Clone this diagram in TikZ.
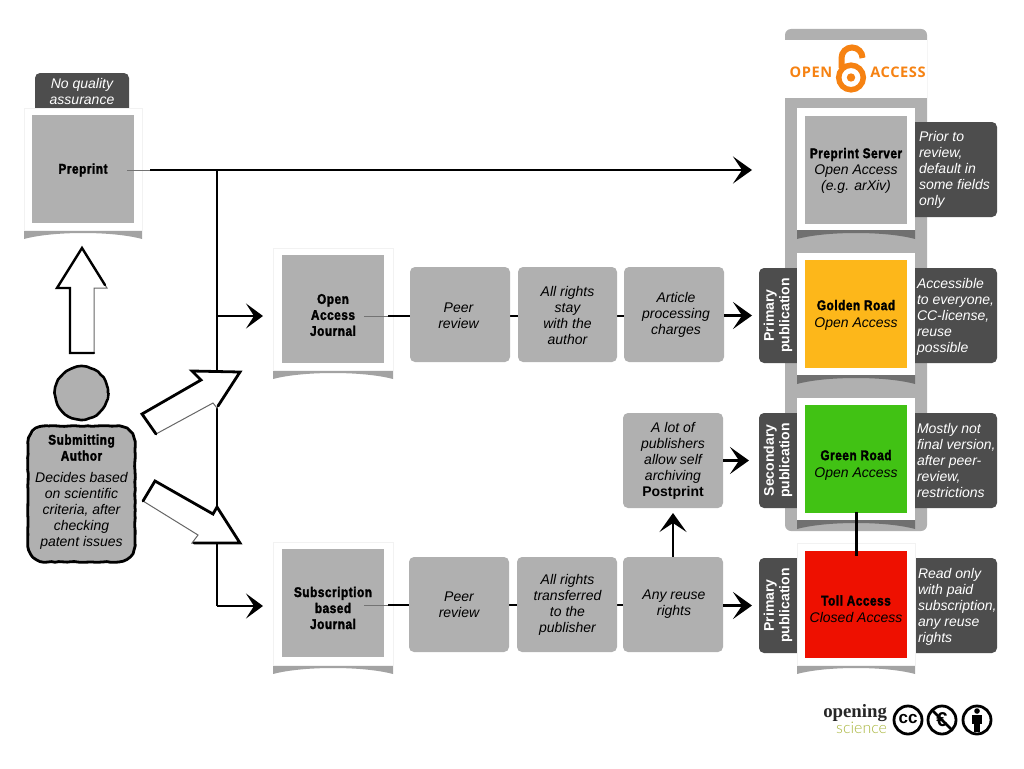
\documentclass[tikz,border=0pt]{standalone}
\usepackage{fontspec}
\setmainfont{Liberation Sans}
\newfontfamily\hfont[FakeStretch=0.84,FakeBold=2,LetterSpace=4]{Liberation Sans Bold}
\newfontfamily\logofont[LetterSpace=4]{Open Sans Bold}
\newfontfamily\sciencefont{Lato Light}
\newfontfamily\openfont{Liberation Serif}
\newcommand{\hd}[1]{{\upshape\hfont #1}}
\usetikzlibrary{arrows.meta,decorations.pathmorphing,shapes.geometric}
\definecolor{cardgrey}{HTML}{B0B0B0}
\definecolor{tabgrey}{HTML}{4D4D4D}
\definecolor{oaorange}{HTML}{F68212}
\definecolor{goldc}{HTML}{FDB71A}
\definecolor{greenc}{HTML}{41C214}
\definecolor{redc}{HTML}{EE1000}
\definecolor{sciencec}{HTML}{A9B63C}
\tikzset{
  x=1pt,y=-1pt,
  base/.style={inner sep=0pt,outer sep=0pt,align=center,font=\fontsize{14}{16}\selectfont\itshape},
  frame/.style={base,fill=white,draw=black!5,line width=.8pt},
  card/.style={base,fill=cardgrey,minimum width=102pt},
  procbox/.style={base,fill=cardgrey,rounded corners=5pt,minimum width=100pt,minimum height=95pt},
  ltab/.style={base,fill=tabgrey,rounded corners=5pt,minimum width=46pt,minimum height=95pt},
  rtab/.style={base,fill=tabgrey,rounded corners=5pt,minimum width=92pt,minimum height=95pt},
  rtext/.style={base,align=left,text=white,anchor=west},
  ltext/.style={base,rotate=90,text=white,font=\fontsize{14}{15.5}\selectfont\bfseries},
  shadowband/.style={fill=black,fill opacity=.36},
  sk/.style={draw=black,line width=2.8pt},
  skfaint/.style={draw=black!55,line width=1pt},
  skarrow/.style={draw=black,line width=2.6pt,-{Stealth[length=19pt,width=27pt,inset=9pt]},shorten >=7pt},
  rough/.style={decorate,decoration={random steps,segment length=4pt,amplitude=.4pt},line join=round},
  hollow/.style={fill=white,draw=black!60,line width=1pt,line join=miter},
  hthick/.style={draw=black,line width=2.8pt,line join=miter,line cap=round},
  ccring/.style={circle,draw=black,line width=2.8pt,fill=white,minimum size=28pt,inner sep=0pt,outer sep=0pt},
}
% shadow under a card: x0, x1, bottom y
\newcommand{\cardshadow}[3]{%
  \fill[shadowband] (#1,#3) -- (#2,#3) -- (#2,#3+9) .. controls ({(#1+#2)/2+30},#3+1) and ({(#1+#2)/2-30},#3+1) .. (#1,#3+9) -- cycle;}
\begin{document}
\begin{tikzpicture}
\useasboundingbox (0,0) rectangle (1024,768);
\fill[white] (0,0) rectangle (1024,768);

% Open access column
\node[base,fill=cardgrey,rounded corners=6pt,minimum width=142pt,minimum height=502pt] (column) at (856,280) {};
\fill[white] (785,40) rectangle (927,98);

% Open access logo
\node[base,font=\fontsize{14.6}{15}\logofont,text=oaorange] (logoopen) at (811,72.5) {OPEN};
\node[base,font=\fontsize{14.6}{15}\logofont,text=oaorange] (logoaccess) at (898,72.5) {ACCESS};
\draw[oaorange,line width=5.5pt] (851,77.5) circle (12.3pt);
\fill[oaorange] (851,77.5) circle (4.2pt);
\draw[oaorange,line width=6pt] (841.5,68) -- (841.5,58) arc (180:0:10.5pt);

% Tabs
\node[rtab] (servertab) at (951,169.5) {};
\node[ltab] (goldentab) at (782,315.5) {};
\node[rtab] (goldenr) at (951,315.5) {};
\node[ltab] (greentab) at (782,460.5) {};
\node[rtab] (greenr) at (951,460.5) {};
\node[ltab] (tolltab) at (782,605.5) {};
\node[rtab] (tollr) at (951,605.5) {};
\node[base,fill=tabgrey,rounded corners=5pt,minimum width=94pt,minimum height=44pt] (nqtab) at (82,95) {};

% Shadows
\cardshadow{24}{142}{230}
\cardshadow{273}{393}{370}
\cardshadow{273}{393}{665}
\cardshadow{797}{915}{230}
\cardshadow{797}{915}{375}
\cardshadow{797}{915}{520}
\cardshadow{797}{915}{665}

% Card frames
\node[frame,minimum width=118pt,minimum height=122pt] (preprintf) at (83,169) {};
\node[frame,minimum width=120pt,minimum height=122pt] (oajf) at (333,309) {};
\node[frame,minimum width=120pt,minimum height=123pt] (subf) at (333,603.5) {};
\node[frame,draw=none,minimum width=118pt,minimum height=122pt] (serverf) at (856,169) {};
\node[frame,draw=none,minimum width=118pt,minimum height=122pt] (goldenf) at (856,314) {};
\node[frame,draw=none,minimum width=118pt,minimum height=122pt] (greenf) at (856,459) {};
\node[frame,minimum width=118pt,minimum height=122pt] (tollf) at (856,604) {};

% Cards
\node[card,minimum height=108pt] (preprint) at (83,169) {};
\node[card,minimum height=108pt] (oaj) at (333,309) {};
\node[card,minimum height=108pt] (sub) at (333,603) {};
\node[card,minimum height=108pt] (server) at (856,169.5) {};
\node[card,fill=goldc,minimum height=108pt] (golden) at (856,314) {};
\node[card,fill=greenc,minimum height=108pt] (green) at (856,459) {};
\node[card,fill=redc,minimum height=107pt] (toll) at (856,604.5) {};
\node[base] (preprinttext) at (83,170) {\hd{Preprint}};
\node[base] (oajtext) at (333,315) {\hd{Open}\\\hd{Access}\\\hd{Journal}};
\node[base] (subtext) at (333,608) {\hd{Subscription}\\\hd{based}\\\hd{Journal}};
\node[base] (servertext) at (856,170.5) {\hd{Preprint Server}\\Open Access\\(e.g. arXiv)};
\node[base] (goldentext) at (856,315) {\hd{Golden Road}\\[1pt]Open Access};
\node[base] (greentext) at (856,465) {\hd{Green Road}\\[1pt]Open Access};
\node[base] (tolltext) at (856,609) {\hd{Toll Access}\\[1pt]Closed Access};

% Side texts
\node[ltext] (goldenl) at (778,315.5) {Primary\\publication};
\node[ltext] (greenl) at (778,460.5) {Secondary\\publication};
\node[ltext] (tolll) at (778,605.5) {Primary\\publication};
\node[rtext] (servert) at (919,170) {Prior to\\review,\\default in\\some fields\\only};
\node[rtext] (goldent) at (917,317) {Accessible\\to everyone,\\CC-license,\\reuse\\possible};
\node[rtext] (greent) at (917,460) {Mostly not\\final version,\\after peer-\\review,\\restrictions};
\node[rtext] (tollt) at (918,607) {Read only\\with paid\\subscription,\\any reuse\\rights};
\node[base,text=white] (nqtext) at (82,91) {No quality\\assurance};

% Connectors, under the process boxes
\coordinate (prstart) at (127,170);
\coordinate (oajstart) at (364,316);
\coordinate (substart) at (364,605);
\coordinate (top) at (217,170);
\coordinate (branchoa) at (217,316);
\coordinate (branchsub) at (217,606);
\coordinate (serverin) at (797,170);
\coordinate (greenstart) at (856,512);
\coordinate (tollend) at (856,556);
\draw[skfaint] (prstart) -- (150,170);
\draw[skarrow,shorten >=45pt] (150,170) -- (serverin);
\draw[sk,line width=2.2pt] (top) -- (branchsub);
\draw[skarrow,shorten >=10pt,line width=2.4pt,-{Stealth[length=17pt,width=25pt,inset=8pt]}] (branchoa) -- (oajf.west |- branchoa);
\draw[skarrow,shorten >=10pt,line width=2.4pt,-{Stealth[length=17pt,width=25pt,inset=8pt]}] (branchsub) -- (subf.west |- branchsub);
\draw[skfaint] (oajstart) -- (oajf.east |- oajstart);
\draw[skfaint] (substart) -- (subf.east |- substart);

% Process boxes
\coordinate (oajmid) at (388,316);
\coordinate (submid) at (388,605);
\draw[sk] (oajmid) -- (724,316);
\draw[sk] (submid) -- (723,605);
\node[procbox] (peer1) at (460,314.5) {};
\node[procbox,minimum width=99pt] (rights1) at (567.5,314.5) {};
\node[procbox] (apc) at (674,314.5) {};
\node[procbox] (peer2) at (459,604.5) {};
\node[procbox] (rights2) at (567,604.5) {};
\node[procbox] (reuse) at (673,604.5) {};
\node[procbox] (postprint) at (673,460.5) {};
\node[base] (peer1t) at (458.5,315.5) {Peer\\review};
\node[base] (rights1t) at (567.5,315.5) {All rights\\stay\\with the\\author};
\node[base] (apct) at (676,314.5) {Article\\processing\\charges};
\node[base] (peer2t) at (459,604.5) {Peer\\review};
\node[base] (rights2t) at (567.5,604.5) {All rights\\transferred\\to the\\publisher};
\node[base] (reuset) at (674,604.5) {Any reuse\\rights};
\node[base] (postt) at (673,460.5) {A lot of\\publishers\\allow self\\archiving\\{\bfseries\upshape Postprint}};

\draw[skarrow] (apc.east |- 0,315.5) -- (goldentab.west);
\draw[skarrow,shorten >=10pt] (postprint.east) -- (greentab.west);
\draw[skarrow] (reuse.east |- 0,605.5) -- (tolltab.west);
\draw[skarrow,shorten >=5pt] (reuse.north) -- (postprint.south);
\draw[draw=black,line width=3pt] (greenstart) -- (tollend);

% Author
\node[base,circle,fill=cardgrey,minimum size=52pt] (head) at (81,393) {};
\draw[black,line width=2.6pt,rough] (head.center) ++(27pt,0) arc (0:360:26.5pt);
\node[base,fill=cardgrey,rounded corners=20pt,minimum width=107pt,minimum height=136pt] (author) at (81.5,494) {};
\draw[black,line width=2.8pt,rough]
  (48,426) -- (115,426) .. controls (128,426) and (135,433) .. (135,446)
  -- (135,542) .. controls (135,555) and (128,562) .. (115,562)
  -- (48,562) .. controls (35,562) and (28,555) .. (28,542)
  -- (28,446) .. controls (28,433) and (35,426) .. (48,426) -- cycle;
\node[base] (authortext) at (81.5,492) {\hd{Submitting}\\\hd{Author}\\[6pt]Decides based\\on scientific\\criteria, after\\checking\\patent issues};

% Hollow arrows
\filldraw[hollow] (70,353) -- (94,353) -- (94,288) -- (107,288) -- (82,248) -- (57,288) -- (70,288) -- cycle;
\draw[hthick,line width=2.4pt] (94,353) -- (70,353) -- (70,288) -- (57,288) -- (82,248) -- (105,285);
\filldraw[hollow] (142,414) -- (201,380) -- (192,371) -- (240,372) -- (217,408) -- (213,403) -- (156,434) -- cycle;
\draw[hthick] (156,434) -- (142,414) -- (201,380) -- (192,371) -- (240,372) -- (218,406);
\filldraw[hollow] (155,481) -- (213,514) -- (217,507) -- (240,543) -- (192,543) -- (198,535) -- (143,501) -- cycle;
\draw[hthick] (143,501) -- (155,481) -- (213,514) -- (217,507) -- (240,543) -- (194,543);

% Credits
\node[base,font=\fontsize{18.8}{19}\openfont\bfseries,text=black!85,anchor=east] (opening) at (887,713) {opening};
\node[base,font=\fontsize{16}{17}\sciencefont,text=sciencec,anchor=east] (science) at (887,728) {science};
\node[ccring] (cc) at (908,720) {};
\node[base,font=\fontsize{17}{18}\bfseries\upshape] (cctext) at (908,719) {cc};
\node[ccring] (nc) at (942,720) {};
\node[base,font=\fontsize{20}{20}\bfseries\upshape] (nctext) at (942,720) {€};
\draw[line width=2.8pt] (932,710) -- (952,730);
\node[ccring] (by) at (977,720) {};
\fill (977,711) circle (2.8pt);
\fill (972,715) rectangle (982,724);
\fill (974,724) rectangle (980,732);
\end{tikzpicture}
\end{document}
